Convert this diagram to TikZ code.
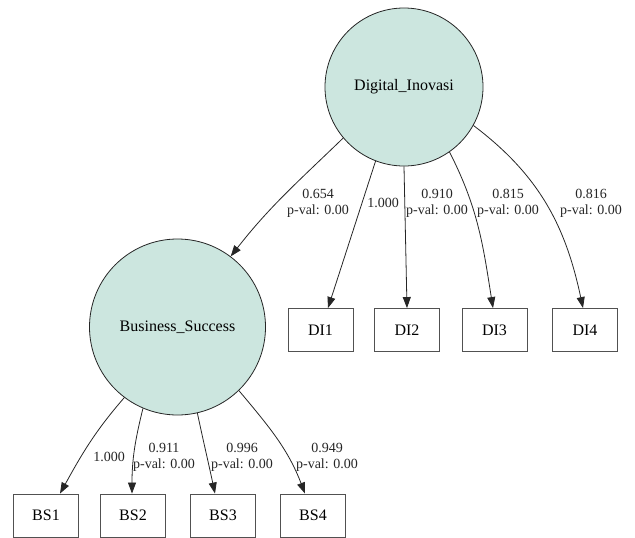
\documentclass[tikz,border=0pt]{standalone}
\usepackage{fontspec}
\setmainfont{Liberation Serif}
\usetikzlibrary{arrows.meta}
\definecolor{latfill}{HTML}{CCE6DF}
\definecolor{edgecol}{HTML}{262626}
\tikzset{
  latent/.style={circle,draw=edgecol,fill=latfill,line width=0.8pt,inner sep=0pt,font=\fontsize{16}{19}\selectfont},
  obs/.style={rectangle,draw=edgecol!80,line width=0.9pt,minimum width=65pt,minimum height=43pt,inner sep=0pt,font=\fontsize{16}{19}\selectfont},
  path/.style={draw=edgecol,line width=0.8pt,-{Triangle[length=11pt,width=8pt]}},
  lbl/.style={align=center,inner sep=0pt,font=\fontsize{14}{15.7}\selectfont,text=black!85}
}
\begin{document}
\begin{tikzpicture}[x=1pt,y=-1pt]
\useasboundingbox (0,0) rectangle (635,538);
\node[latent,minimum size=158pt] (di) at (404,87) {Digital\_Inovasi};
\node[latent,minimum size=176pt] (bs) at (177.5,327) {Business\_Success};
\node[obs] (di1) at (320.5,330) {DI1};
\node[obs] (di2) at (407,330) {DI2};
\node[obs] (di3) at (494.5,330) {DI3};
\node[obs] (di4) at (585,330) {DI4};
\node[obs] (bs1) at (46,515.5) {BS1};
\node[obs] (bs2) at (133,515.5) {BS2};
\node[obs] (bs3) at (223,515.5) {BS3};
\node[obs] (bs4) at (313,515.5) {BS4};
% structural path
\draw[path] (di.220.5) to[out=-136,in=52] (bs.53);
% DI loadings
\draw[path] (di.249) -- ([xshift=7.5pt]di1.north);
\draw[path] (di.270) -- (di2.north);
\draw[path] (di.305.5) to[out=-63,in=99] ([xshift=-1.5pt]di3.north);
\draw[path] (di.331) to[out=-37,in=102] ([xshift=-2pt]di4.north);
% BS loadings
\draw[path] (bs.233.5) to[out=-131,in=61] ([xshift=14pt]bs1.north);
\draw[path] (bs.247) to[out=-104,in=90] ([xshift=-1pt]bs2.north);
\draw[path] (bs.283) to[out=-78,in=102] ([xshift=-8pt]bs3.north);
\draw[path] (bs.314) to[out=-50,in=111] ([xshift=-8pt]bs4.north);
% labels
\node[lbl] (l0) at (318,203) {0.654\\p-val: 0.00};
\node[lbl] (l1) at (383,203) {1.000};
\node[lbl] (l2) at (437,203) {0.910\\p-val: 0.00};
\node[lbl] (l3) at (508,203) {0.815\\p-val: 0.00};
\node[lbl] (l4) at (591,203) {0.816\\p-val: 0.00};
\node[lbl] (m1) at (109,457) {1.000};
\node[lbl] (m2) at (164,457) {0.911\\p-val: 0.00};
\node[lbl] (m3) at (242,457) {0.996\\p-val: 0.00};
\node[lbl] (m4) at (327,457) {0.949\\p-val: 0.00};
\end{tikzpicture}
\end{document}
